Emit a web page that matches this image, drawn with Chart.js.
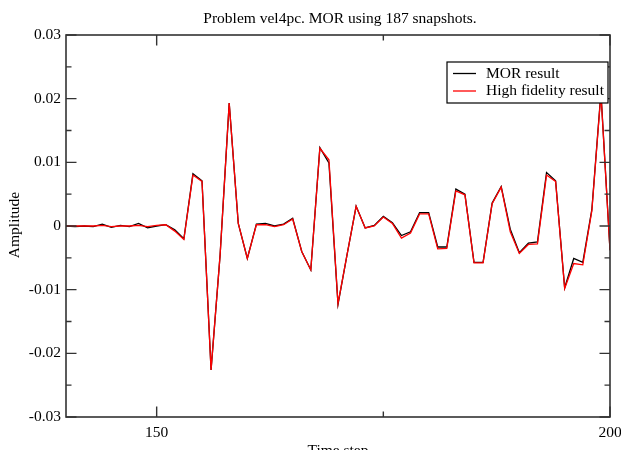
<!DOCTYPE html>
<html>
<head>
<meta charset="utf-8">
<script src="https://cdn.jsdelivr.net/npm/chart.js@4"></script>
<style>
html,body{margin:0;padding:0;background:#fff;}
#wrap{width:621px;height:450px;}
</style>
</head>
<body>
<div id="wrap"><canvas id="c" width="621" height="450"></canvas></div>
<script>
const timeSteps = [140,141,142,143,144,145,146,147,148,149,150,151,152,153,154,155,156,157,158,159,160,161,162,163,164,165,166,167,168,169,170,171,172,173,174,175,176,177,178,179,180,181,182,183,184,185,186,187,188,189,190,191,192,193,194,195,196,197,198,199,200];
const morResult = [0.0000,-0.0001,0.0000,-0.0001,0.0003,-0.0002,0.0001,-0.0001,0.0004,-0.0003,0.0000,0.0002,-0.0006,-0.0020,0.0082,0.0071,-0.0226,-0.0045,0.0193,0.0004,-0.0051,0.0003,0.0004,0.0000,0.0003,0.0012,-0.0040,-0.0069,0.0123,0.0099,-0.0123,-0.0045,0.0031,-0.0003,0.0001,0.0015,0.0005,-0.0015,-0.0009,0.0021,0.0021,-0.0033,-0.0033,0.0058,0.0050,-0.0057,-0.0057,0.0036,0.0062,-0.0005,-0.0042,-0.0027,-0.0025,0.0084,0.0071,-0.0097,-0.0051,-0.0057,0.0026,0.0210,-0.0038];
const highFidelity = [0.0000,0.0000,0.0000,0.0000,0.0001,-0.0001,0.0000,0.0000,0.0001,-0.0001,0.0001,0.0002,-0.0008,-0.0021,0.0080,0.0070,-0.0226,-0.0045,0.0193,0.0004,-0.0051,0.0002,0.0002,-0.0001,0.0002,0.0011,-0.0040,-0.0069,0.0122,0.0104,-0.0122,-0.0045,0.0031,-0.0003,0.0000,0.0014,0.0004,-0.0019,-0.0011,0.0019,0.0019,-0.0036,-0.0035,0.0055,0.0049,-0.0058,-0.0058,0.0035,0.0061,-0.0009,-0.0043,-0.0029,-0.0028,0.0080,0.0070,-0.0098,-0.0059,-0.0061,0.0024,0.0208,-0.0038];
const xTickValues = [150,200];
const xMinorTicks = [175];
const yTickValues = [-0.03,-0.02,-0.01,0,0.01,0.02,0.03];
const yMinorTicks = [-0.025,-0.015,-0.005,0.005,0.015,0.025];
const seriesNames = ["MOR result","High fidelity result"];
const chartTitle = "Problem vel4pc. MOR using 187 snapshots.";
const xTitle = "Time step";
const yTitle = "Amplitude";

const FONT = "Liberation Serif";

const framePlugin = {
  id: 'frame',
  afterDatasetsDraw(chart) {
    const ctx = chart.ctx, a = chart.chartArea;
    const xs = chart.scales.x, ys = chart.scales.y;
    ctx.save();
    ctx.strokeStyle = '#333';
    ctx.lineWidth = 1.6;
    ctx.strokeRect(a.left, a.top, a.right - a.left, a.bottom - a.top);
    ctx.lineWidth = 1.4;
    const major = 10.5, minor = 5.5;
    function xt(v, len) {
      const p = xs.getPixelForValue(v);
      ctx.beginPath();
      ctx.moveTo(p, a.bottom); ctx.lineTo(p, a.bottom - len);
      ctx.moveTo(p, a.top); ctx.lineTo(p, a.top + len);
      ctx.stroke();
    }
    function yt(v, len) {
      const p = ys.getPixelForValue(v);
      ctx.beginPath();
      ctx.moveTo(a.left, p); ctx.lineTo(a.left + len, p);
      ctx.moveTo(a.right, p); ctx.lineTo(a.right - len, p);
      ctx.stroke();
    }
    xTickValues.forEach(v => xt(v, major));
    xMinorTicks.forEach(v => xt(v, minor));
    yTickValues.forEach(v => yt(v, major));
    yMinorTicks.forEach(v => yt(v, minor));

    // legend
    const lx = 447, ly = 62, lw = 161, lh = 41;
    ctx.fillStyle = '#fff';
    ctx.fillRect(lx, ly, lw, lh);
    ctx.strokeStyle = '#000';
    ctx.lineWidth = 1.2;
    ctx.strokeRect(lx, ly, lw, lh);
    const colors = ['#000', '#ff0000'];
    const rows = [73.5, 91];
    ctx.font = '15.5px "' + FONT + '"';
    ctx.textBaseline = 'middle';
    ctx.textAlign = 'left';
    for (let i = 0; i < 2; i++) {
      ctx.strokeStyle = colors[i];
      ctx.lineWidth = 1.3;
      ctx.beginPath();
      ctx.moveTo(453, rows[i]); ctx.lineTo(476, rows[i]);
      ctx.stroke();
      ctx.fillStyle = '#000';
      ctx.fillText(seriesNames[i], 486, rows[i]);
    }

    // titles
    ctx.fillStyle = '#000';
    ctx.textAlign = 'center';
    ctx.textBaseline = 'middle';
    ctx.font = '15.5px "' + FONT + '"';
    ctx.fillText(chartTitle, 340, 19);
    ctx.fillText(xTitle, 338, 451);
    ctx.save();
    ctx.translate(15, 225);
    ctx.rotate(-Math.PI / 2);
    ctx.fillText(yTitle, 0, 0);
    ctx.restore();
    ctx.restore();
  }
};

new Chart(document.getElementById('c'), {
  type: 'line',
  data: {
    datasets: [
      {
        label: seriesNames[1],
        data: timeSteps.map((t, i) => ({x: t, y: highFidelity[i]})),
        borderColor: '#ff0000',
        borderWidth: 1.3,
        pointRadius: 0,
        tension: 0,
        order: 1
      },
      {
        label: seriesNames[0],
        data: timeSteps.map((t, i) => ({x: t, y: morResult[i]})),
        borderColor: '#000000',
        borderWidth: 1.3,
        pointRadius: 0,
        tension: 0,
        order: 2
      }
    ]
  },
  options: {
    responsive: false,
    devicePixelRatio: 1,
    animation: false,
    layout: { padding: { left: 0, right: 11, top: 35, bottom: 0 } },
    plugins: { legend: { display: false }, title: { display: false }, tooltip: { enabled: false } },
    scales: {
      x: {
        type: 'linear',
        min: 140, max: 200,
        grid: { display: false, drawTicks: false },
        border: { display: false },
        afterBuildTicks: s => { s.ticks = xTickValues.map(v => ({value: v})); },
        afterFit: s => { s.height = 33; s.paddingLeft = 0; s.paddingRight = 0; },
        ticks: {
          padding: 7,
          color: '#000',
          font: { family: FONT, size: 15.5 },
          maxRotation: 0,
          callback: v => String(v)
        }
      },
      y: {
        min: -0.03, max: 0.03,
        grid: { display: false, drawTicks: false },
        border: { display: false },
        afterBuildTicks: s => { s.ticks = yTickValues.map(v => ({value: v})); },
        afterFit: s => { s.width = 66; s.paddingTop = 0; s.paddingBottom = 0; },
        ticks: {
          padding: 5,
          color: '#000',
          font: { family: FONT, size: 15.5 },
          callback: v => (Math.abs(v) < 1e-9 ? '0' : String(Math.round(v * 100) / 100))
        }
      }
    }
  },
  plugins: [framePlugin]
});
</script>
</body>
</html>
